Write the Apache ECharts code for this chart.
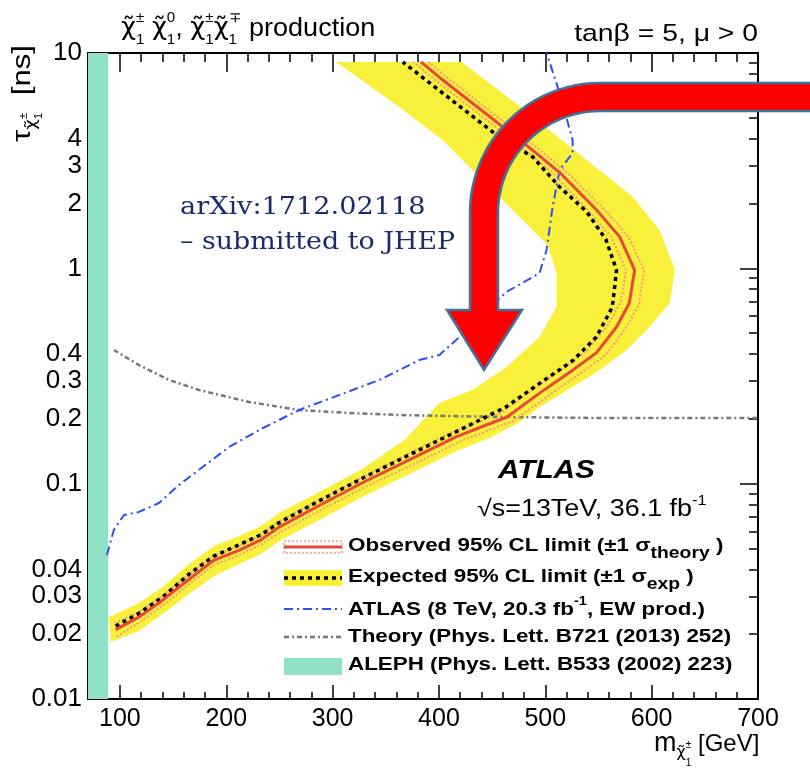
<!DOCTYPE html>
<html>
<head>
<meta charset="utf-8">
<script src="https://cdn.jsdelivr.net/npm/echarts@6/dist/echarts.min.js"></script>
<style>
  html, body { margin: 0; padding: 0; background: #fff; }
  #chart { width: 810px; height: 772px; }
</style>
</head>
<body>
<div id="chart"></div>
<script>
// Long-lived chargino search: excluded region in the (mass, lifetime) plane.
// Points are [chargino mass in GeV, chargino lifetime in ns].

const observedLimit = [
  [96, 0.021], [118, 0.024], [141, 0.029], [165, 0.036], [188, 0.044], [212, 0.049],
  [233, 0.055], [250, 0.063], [287, 0.079], [328, 0.101], [372, 0.129], [416, 0.165],
  [464, 0.204], [495, 0.264], [526, 0.337], [548, 0.405], [567, 0.534], [579, 0.69],
  [584, 0.98], [570, 1.40], [548, 1.87], [514, 2.77], [488, 3.54], [400, 7.74], [383, 9.1]
];
const observedTheoryUp = [
  [97, 0.0195], [119, 0.0228], [142, 0.0276], [166, 0.0345], [189, 0.042], [213, 0.0468],
  [234, 0.0525], [252, 0.060], [289, 0.0755], [331, 0.0965], [376, 0.123], [421, 0.158],
  [470, 0.196], [502, 0.254], [533, 0.326], [556, 0.393], [575, 0.52], [588, 0.68],
  [593, 0.98], [578, 1.40], [556, 1.87], [521, 2.77], [495, 3.54], [407, 7.74], [390, 9.1]
];
const observedTheoryDown = [
  [95, 0.0225], [117, 0.0252], [140, 0.0302], [164, 0.0375], [187, 0.046], [211, 0.0512],
  [232, 0.0575], [248, 0.066], [285, 0.0825], [325, 0.105], [368, 0.135], [411, 0.172],
  [458, 0.212], [488, 0.274], [519, 0.348], [540, 0.418], [559, 0.548], [571, 0.70],
  [576, 0.98], [562, 1.40], [540, 1.87], [507, 2.77], [481, 3.54], [393, 7.74], [376, 9.1]
];
const expectedLimit = [
  [96, 0.0218], [118, 0.025], [141, 0.030], [165, 0.038], [188, 0.046], [212, 0.052],
  [233, 0.058], [250, 0.066], [287, 0.083], [328, 0.106], [372, 0.136], [416, 0.174],
  [463, 0.227], [495, 0.293], [526, 0.373], [548, 0.48], [563, 0.66], [567, 0.98],
  [557, 1.36], [539, 1.83], [513, 2.4], [488, 3.3], [457, 4.06], [366, 9.08]
];
// +-1 sigma expected band: outer edge (high mass side) then inner edge back down
const expectedBandOuter = [
  [91.5, 0.0184], [117.9, 0.0207], [141.4, 0.0251], [165, 0.0307], [188.5, 0.0373],
  [212.1, 0.0424], [232.8, 0.0471], [249.8, 0.0542], [287.4, 0.0678], [327.9, 0.0867],
  [372.2, 0.1109], [416.5, 0.1418], [447.6, 0.163], [475.8, 0.1934], [494.6, 0.227],
  [525.7, 0.281], [551.2, 0.337], [576.6, 0.418], [595.4, 0.517], [617.1, 0.69],
  [621.8, 0.982], [607.7, 1.5], [582.2, 2.15], [535.1, 3.3], [469.2, 6.0], [421.2, 9.08]
];
const expectedBandInner = [
  [303.4, 9.08], [362.8, 5.615], [403.3, 3.945], [438.1, 2.656], [469.2, 1.866],
  [502.2, 1.284], [510.6, 0.951], [510.6, 0.661], [494.6, 0.48], [463.6, 0.348],
  [431.5, 0.2723], [400.5, 0.237], [367.5, 0.1595], [327.9, 0.117], [287.4, 0.0915],
  [249.8, 0.0731], [232.8, 0.0636], [212.1, 0.0571], [188.5, 0.0513], [165, 0.0424],
  [141.4, 0.0335], [117.9, 0.0279], [89.6, 0.024]
];
const atlas8TeV = [
  [87.8, 0.0466], [94.3, 0.0609], [103.8, 0.0715], [117.9, 0.0739], [136.7, 0.0813],
  [155.6, 0.0986], [179.1, 0.1208], [202.7, 0.1481], [230.9, 0.1775], [268.6, 0.2198],
  [306.3, 0.2581], [343.9, 0.303], [381.6, 0.3752], [400.5, 0.396], [419.3, 0.48],
  [431.5, 0.557], [463.6, 0.777], [494.6, 0.951], [501.2, 1.217], [506.9, 1.93],
  [513.5, 2.86], [525.7, 3.43], [525.7, 3.94], [513.5, 6.52], [501.2, 10]
];
const theoryLifetime = [
  [94.3, 0.4177], [117.9, 0.3557], [146.2, 0.303], [174.4, 0.2723], [221.5, 0.2395],
  [268.6, 0.2198], [315.7, 0.2128], [362.8, 0.2084], [457, 0.204], [551.2, 0.2018], [700, 0.2018]
];
const alephMassLimit = 89;

const massRange = [70, 700];
const lifetimeRange = [0.01, 10];
const massTickLabels = [100, 200, 300, 400, 500, 600, 700];
const massMinorTicks = [80, 120, 140, 160, 180, 220, 240, 260, 280, 320, 340, 360, 380,
  420, 440, 460, 480, 520, 540, 560, 580, 620, 640, 660, 680];
const lifetimeTickLabels = [0.01, 0.02, 0.03, 0.04, 0.1, 0.2, 0.3, 0.4, 1, 2, 3, 4, 10];
const lifetimeMajorTicks = [0.01, 0.1, 1, 10];
const lifetimeMinorTicks = [0.02, 0.03, 0.04, 0.05, 0.06, 0.07, 0.08, 0.09,
  0.2, 0.3, 0.4, 0.5, 0.6, 0.7, 0.8, 0.9, 2, 3, 4, 5, 6, 7, 8, 9];

const FONT = "'Liberation Sans', Arial, Helvetica, sans-serif";
const GREEK = "'DejaVu Sans', 'Liberation Sans', sans-serif";
const CHI = '\u03C7\u0303';
const YELLOW = '#f8f03a';
const TEAL = '#8fe1c8';
const RED = '#e8473a';
const PINK = '#f4998a';
const BLUE = '#2e4ff2';
const GREY = '#767676';

// ---------- text helper: lays out runs with sub/superscripts ----------
const mctx = document.createElement('canvas').getContext('2d');
function fontStr(p) {
  return (p.italic ? 'italic ' : '') + (p.bold ? 'bold ' : '') + p.size + 'px ' + (p.family || FONT);
}
function run(parts, base) {
  let x = 0, stackW = 0;
  const children = [];
  parts.forEach(q => {
    const p = Object.assign({}, base, q);
    const font = fontStr(p);
    mctx.font = font;
    const w = mctx.measureText(p.t).width;
    children.push({
      type: 'text', x: x + (p.dx || 0), y: p.dy || 0, silent: true,
      style: { text: p.t, font: font, fill: p.fill || '#000',
        align: 'left', verticalAlign: 'middle', textAlign: 'left', textVerticalAlign: 'middle' }
    });
    if (p.stack) stackW = Math.max(stackW, w + (p.dx || 0));
    else { x += Math.max(stackW, w + (p.dx || 0)); stackW = 0; }
  });
  return children;
}
function textGroup(x, y, parts, base, extra) {
  return Object.assign({ type: 'group', x: x, y: y, z: 100, children: run(parts, base) }, extra || {});
}
const chi = (size, dy) => ({ t: CHI, family: GREEK, size: size, dy: dy || 0 });

// ---------- axes: one data grid plus overlay grids for ticks ----------
const gridRect = { left: 88, top: 53, right: 52, bottom: 73, outerBoundsMode: 'none', containLabel: false };
const grids = [0, 1, 2, 3, 4].map(() => Object.assign({}, gridRect));
const lineOn = { show: true, onZero: false, lineStyle: { color: '#000', width: 2 } };
const lineOff = { show: false, onZero: false };
const tick = (vals, len) => ({ show: true, inside: true, length: len, customValues: vals,
  lineStyle: { color: '#000', width: 1.5 } });
const noTick = { show: false };
const noLabel = { show: false };
const log10 = v => Math.log10(v);

function xAx(gi, pos, line, axisTick, axisLabel) {
  return { type: 'value', gridIndex: gi, position: pos, min: massRange[0], max: massRange[1],
    splitLine: { show: false }, axisLine: line, axisTick: axisTick, axisLabel: axisLabel };
}
function yAxLin(gi, pos, line, axisTick, axisLabel) {
  return { type: 'value', gridIndex: gi, position: pos, min: log10(lifetimeRange[0]), max: log10(lifetimeRange[1]),
    splitLine: { show: false }, axisLine: line, axisTick: axisTick, axisLabel: axisLabel };
}

const xMajor = massTickLabels;
const yMajorLog = lifetimeMajorTicks.map(log10);
const yMinorLog = lifetimeMinorTicks.map(log10);

const xAxes = [
  xAx(0, 'bottom', lineOn, tick(xMajor, 14), {
    show: true, customValues: massTickLabels, margin: 8, color: '#000',
    fontSize: 25, fontFamily: FONT
  }),
  xAx(1, 'top', lineOn, tick(xMajor, 19), noLabel),
  xAx(2, 'bottom', lineOff, tick(massMinorTicks, 7), noLabel),
  xAx(3, 'top', lineOff, tick(massMinorTicks, 9), noLabel),
  xAx(4, 'bottom', lineOff, noTick, noLabel)
];
const yAxes = [
  { type: 'log', logBase: 10, gridIndex: 0, position: 'left', min: lifetimeRange[0], max: lifetimeRange[1],
    splitLine: { show: false }, axisLine: lineOn, axisTick: noTick, axisLabel: noLabel },
  yAxLin(1, 'left', lineOff, tick(yMajorLog, 20), {
    show: true, customValues: lifetimeTickLabels.map(log10), margin: 6, color: '#000',
    fontSize: 26, fontFamily: FONT,
    formatter: v => String(parseFloat(Math.pow(10, v).toPrecision(6)))
  }),
  yAxLin(2, 'right', lineOn, tick(yMajorLog, 18), noLabel),
  yAxLin(3, 'right', lineOff, tick(yMinorLog, 9), noLabel),
  yAxLin(4, 'left', lineOff, tick(yMinorLog, 10), noLabel)
];

// ---------- series ----------
const bandPolygon = expectedBandOuter.concat(expectedBandInner);
const alephBox = [[massRange[0], lifetimeRange[0]], [alephMassLimit, lifetimeRange[1]]];

function lineSeries(name, data, color, width, dash, z) {
  return { type: 'line', name: name, xAxisIndex: 0, yAxisIndex: 0, data: data,
    symbol: 'none', smooth: false, clip: true, silent: true, z: z,
    lineStyle: { color: color, width: width, type: dash, cap: 'butt' } };
}

const series = [
  {
    type: 'custom', name: 'Expected band', xAxisIndex: 0, yAxisIndex: 0, data: bandPolygon,
    clip: true, silent: true, z: 1,
    renderItem: (params, api) => {
      if (params.dataIndex !== 0) return null;
      return { type: 'polygon', shape: { points: bandPolygon.map(p => api.coord(p)) },
        style: { fill: YELLOW } };
    }
  },
  {
    type: 'custom', name: 'ALEPH', xAxisIndex: 0, yAxisIndex: 0, data: alephBox,
    clip: true, silent: true, z: 2,
    renderItem: (params, api) => {
      if (params.dataIndex !== 0) return null;
      const a = api.coord(alephBox[0]), b = api.coord(alephBox[1]);
      return { type: 'rect', shape: { x: a[0], y: b[1], width: b[0] - a[0], height: a[1] - b[1] },
        style: { fill: TEAL } };
    }
  },
  lineSeries('Theory', theoryLifetime, GREY, 2.5, [5, 3, 2, 3], 3),
  lineSeries('ATLAS 8 TeV', atlas8TeV, BLUE, 2, [9, 4, 2, 4], 3),
  lineSeries('Observed +1 sigma', observedTheoryUp, PINK, 2, [2, 2], 4),
  lineSeries('Observed -1 sigma', observedTheoryDown, PINK, 2, [2, 2], 4),
  lineSeries('Expected', expectedLimit, '#000', 3.5, [4, 4], 5),
  lineSeries('Observed', observedLimit, RED, 3, 'solid', 6)
];

// ---------- annotations ----------
const sub = { size: 14, dy: 11 };
const sup = { size: 14, dy: -11, stack: true };
const graphics = [];

// process label
graphics.push(textGroup(121, 29, [
  chi(24), Object.assign({ t: '\u00B1' }, sup), Object.assign({ t: '1' }, sub), { t: ' ' },
  chi(24), Object.assign({ t: '0' }, sup), Object.assign({ t: '1' }, sub), { t: ', ' },
  chi(24), Object.assign({ t: '\u00B1' }, sup), Object.assign({ t: '1' }, sub),
  chi(24), Object.assign({ t: '\u2213' }, sup), Object.assign({ t: '1' }, sub),
  { t: ' production' }
], { size: 25 }, { scaleX: 1.08 }));

// model parameters
graphics.push({ type: 'group', x: 758, y: 34, z: 100, scaleX: 1.18, children: [
  { type: 'text', silent: true,
    style: { text: 'tan\u03B2 = 5, \u03BC > 0', font: '24px ' + FONT, fill: '#000',
      align: 'right', verticalAlign: 'middle', textAlign: 'right', textVerticalAlign: 'middle' } }
] });

// y axis title (rotated)
graphics.push(textGroup(23, 142, [
  { t: '\u03C4' }, chi(15, 9),
  { t: '\u00B1', size: 10, dy: 1, stack: true }, { t: '1', size: 10, dy: 16 },
  { t: '  [ns]', size: 26 }
], { size: 26 }, { rotation: Math.PI / 2, scaleX: 1.2 }));

// x axis title
graphics.push(textGroup(654, 744, [
  { t: 'm', size: 27 }, chi(16, 9),
  { t: '\u00B1', size: 10, dy: 1, stack: true }, { t: '1', size: 10, dy: 19 },
  { t: ' [GeV]' }
], { size: 24 }));

// reference
const NAVY = '#1b2a6b';
const SERIF = "'DejaVu Serif', 'Liberation Serif', serif";
graphics.push(textGroup(180, 208, [{ t: 'arXiv:1712.02118' }],
  { size: 24, family: SERIF, fill: NAVY }, { scaleX: 1.13 }));
graphics.push(textGroup(180, 243, [{ t: '\u2013 submitted to JHEP' }],
  { size: 24, family: SERIF, fill: NAVY }, { scaleX: 1.12 }));

// experiment label
graphics.push(textGroup(498, 471, [{ t: 'ATLAS' }], { size: 25, bold: true, italic: true }, { scaleX: 1.19 }));
graphics.push(textGroup(477, 510, [
  { t: '\u221As=13TeV, 36.1 fb' }, { t: '-1', size: 14, dy: -9 }
], { size: 23 }, { scaleX: 1.17 }));

// legend
const LX0 = 284, LX1 = 342, TX = 348;
const legendBase = { size: 18.5, bold: true };
const lsub = { size: 16, dy: 8 };
graphics.push(
  { type: 'rect', z: 100, silent: true, shape: { x: LX0, y: 541, width: LX1 - LX0, height: 12 },
    style: { fill: 'none', stroke: PINK, lineWidth: 1.5, lineDash: [2, 2] } },
  { type: 'line', z: 100, silent: true, shape: { x1: LX0, y1: 547, x2: LX1, y2: 547 },
    style: { stroke: RED, lineWidth: 3 } },
  { type: 'rect', z: 100, silent: true, shape: { x: LX0, y: 570, width: LX1 - LX0, height: 16 },
    style: { fill: YELLOW } },
  { type: 'line', z: 100, silent: true, shape: { x1: LX0, y1: 578, x2: LX1, y2: 578 },
    style: { stroke: '#000', lineWidth: 3.5, lineDash: [4, 4] } },
  { type: 'line', z: 100, silent: true, shape: { x1: LX0, y1: 609, x2: LX1, y2: 609 },
    style: { stroke: BLUE, lineWidth: 2, lineDash: [9, 4, 2, 4] } },
  { type: 'line', z: 100, silent: true, shape: { x1: LX0, y1: 637, x2: LX1, y2: 637 },
    style: { stroke: GREY, lineWidth: 2.5, lineDash: [5, 3, 2, 3] } },
  { type: 'rect', z: 100, silent: true, shape: { x: LX0, y: 658, width: LX1 - LX0, height: 17 },
    style: { fill: TEAL } }
);
const legendScale = { scaleX: 1.21 };
graphics.push(textGroup(TX, 546, [
  { t: 'Observed 95% CL limit (\u00B11 \u03C3' }, Object.assign({ t: 'theory' }, lsub), { t: ' )' }
], legendBase, legendScale));
graphics.push(textGroup(TX, 577, [
  { t: 'Expected 95% CL limit (\u00B11 \u03C3' }, Object.assign({ t: 'exp' }, lsub), { t: ' )' }
], legendBase, legendScale));
graphics.push(textGroup(TX, 610, [
  { t: 'ATLAS (8 TeV, 20.3 fb' }, { t: '-1', size: 12, dy: -8 }, { t: ', EW prod.)' }
], legendBase, legendScale));
graphics.push(textGroup(TX, 637, [
  { t: 'Theory (Phys. Lett. B721 (2013) 252)' }
], legendBase, legendScale));
graphics.push(textGroup(TX, 665, [
  { t: 'ALEPH (Phys. Lett. B533 (2002) 223)' }
], legendBase, legendScale));

// curved call-out arrow
(function () {
  const cx = 600, cy = 213, rOut = 130, rIn = 102;
  const pts = [[830, cy - rOut]];
  for (let i = 0; i <= 24; i++) {
    const a = -Math.PI / 2 - (Math.PI / 2) * i / 24;
    pts.push([cx + rOut * Math.cos(a), cy + rOut * Math.sin(a)]);
  }
  pts.push([470, 310], [447, 310], [484, 370], [522, 310], [498, 310]);
  for (let i = 0; i <= 24; i++) {
    const a = -Math.PI + (Math.PI / 2) * i / 24;
    pts.push([cx + rIn * Math.cos(a), cy + rIn * Math.sin(a)]);
  }
  pts.push([830, cy - rIn]);
  graphics.push({ type: 'polygon', z: 200, silent: true, shape: { points: pts },
    style: { fill: '#ff0000', stroke: '#41719c', lineWidth: 2.5, lineJoin: 'miter' } });
})();

const chart = echarts.init(document.getElementById('chart'), null, { renderer: 'canvas' });
chart.setOption({
  animation: false,
  backgroundColor: '#fff',
  grid: grids,
  xAxis: xAxes,
  yAxis: yAxes,
  series: series,
  graphic: { elements: graphics }
});
</script>
</body>
</html>
